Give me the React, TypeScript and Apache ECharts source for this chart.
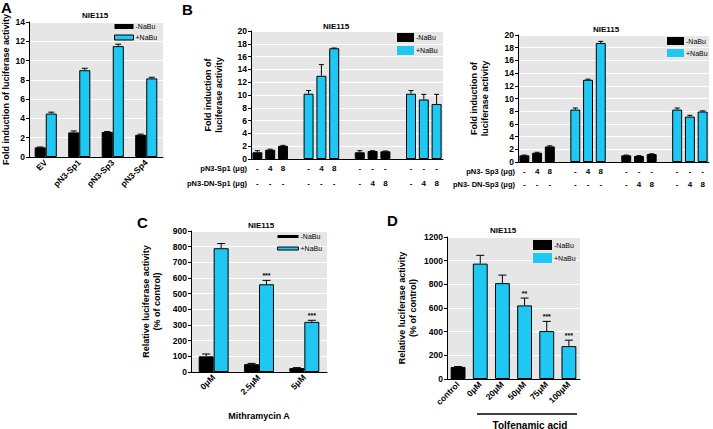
import React, { useEffect, useRef } from 'react';
import * as echarts from 'echarts';

const BLUE = '#1ec8f2';
const GRAYBG = '#e6e6e6';
const FONT = '"Liberation Sans", Arial, sans-serif';

// ---------- Panel A ----------
const aCategories = ['EV', 'pN3-Sp1', 'pN3-Sp3', 'pN3-Sp4'];
const aMinus = [1.0, 2.55, 2.6, 2.3];
const aMinusErr = [0.04, 0.15, 0.04, 0.07];
const aPlus = [4.5, 9.0, 11.5, 8.15];
const aPlusErr = [0.15, 0.2, 0.2, 0.12];

// ---------- Panel B (left: Sp1, right: Sp3) ----------
// 4 groups of 3 bars; treatment per group
const bGroupTreatment = ['-NaBu', '+NaBu', '-NaBu', '+NaBu'];
const bLeftValues = [1.05, 1.45, 2.05, 10.2, 13.0, 17.3, 1.05, 1.25, 1.2, 10.2, 9.3, 8.6];
const bLeftErrors = [0.25, 0.08, 0.08, 0.5, 1.75, 0.04, 0.25, 0.04, 0.05, 0.5, 0.8, 1.5];
const bRightValues = [1.05, 1.45, 2.45, 8.25, 12.95, 18.75, 1.05, 0.95, 1.25, 8.25, 7.15, 7.95];
const bRightErrors = [0.04, 0.08, 0.1, 0.25, 0.1, 0.25, 0.04, 0.05, 0.04, 0.25, 0.2, 0.1];
const bSpDoses = ['-', '4', '8', '-', '4', '8', '-', '-', '-', '-', '-', '-'];
const bDnDoses = ['-', '-', '-', '-', '-', '-', '-', '4', '8', '-', '4', '8'];

// ---------- Panel C ----------
const cCategories = ['0μM', '2.5μM', '5μM'];
const cMinus = [100, 50, 25];
const cMinusErr = [15, 5, 3];
const cPlus = [790, 560, 320];
const cPlusErr = [30, 25, 10];
const cPlusStars = ['', '***', '***'];

// ---------- Panel D ----------
const dCategories = ['control', '0μM', '20μM', '50μM', '75μM', '100μM'];
const dMinus = [102, null, null, null, null, null];
const dMinusErr = [3, 0, 0, 0, 0, 0];
const dPlus = [null, 975, 810, 622, 405, 278];
const dPlusErr = [0, 70, 68, 62, 82, 50];
const dPlusStars = ['', '', '', '**', '***', '***'];

// Build slot layout for B panels (3 bars + spacer per group)
function buildSlots(values: number[], errors: number[], doses1: string[], doses2: string[]) {
  const minus: (number | null)[] = [];
  const plus: (number | null)[] = [];
  const errM: [number, number, number][] = [];
  const errP: [number, number, number][] = [];
  const lab1: string[] = [];
  const lab2: string[] = [];
  const cats: string[] = [];
  for (let g = 0; g < 4; g++) {
    for (let j = 0; j < 3; j++) {
      const idx = g * 3 + j;
      const slot = cats.length;
      cats.push('s' + slot);
      lab1.push(doses1[idx]);
      lab2.push(doses2[idx]);
      if (bGroupTreatment[g] === '-NaBu') {
        minus.push(values[idx]);
        plus.push(null);
        errM.push([slot, values[idx], errors[idx]]);
      } else {
        plus.push(values[idx]);
        minus.push(null);
        errP.push([slot, values[idx], errors[idx]]);
      }
    }
    if (g < 3) {
      const slot = cats.length;
      cats.push('s' + slot);
      lab1.push('');
      lab2.push('');
      minus.push(null);
      plus.push(null);
    }
  }
  return { minus, plus, errM, errP, lab1, lab2, cats };
}

function errSeries(xIdx: number, yIdx: number, data: any[], offsetRatio: number, capPx: number, stars?: string[]) {
  return {
    type: 'custom',
    xAxisIndex: xIdx,
    yAxisIndex: yIdx,
    z: 10,
    silent: true,
    data,
    renderItem: (params: any, api: any) => {
      const i = api.value(0);
      const v = api.value(1);
      const e = api.value(2);
      const band = api.size([1, 0])[0];
      const base = api.coord([i, v]);
      const top = api.coord([i, v + e]);
      const x = base[0] + offsetRatio * band;
      const children: any[] = [];
      if (e > 0) {
        children.push({ type: 'line', shape: { x1: x, y1: base[1], x2: x, y2: top[1] }, style: { stroke: '#000', lineWidth: 1 } });
        children.push({ type: 'line', shape: { x1: x - capPx / 2, y1: top[1], x2: x + capPx / 2, y2: top[1] }, style: { stroke: '#000', lineWidth: 1 } });
      }
      const s = stars ? stars[params.dataIndex] : '';
      if (s) {
        children.push({
          type: 'text',
          x: x,
          y: top[1] - 1,
          style: { text: s, align: 'center', verticalAlign: 'bottom', textAlign: 'center', textVerticalAlign: 'bottom', fontSize: 7, fontWeight: 'bold', fill: '#000', fontFamily: FONT },
        });
      }
      return { type: 'group', children };
    },
  };
}

const axisLabelStyle = { fontFamily: FONT, fontWeight: 'bold' as const, fontSize: 8.5, color: '#000' };

function yAxis(gridIndex: number, max: number, interval: number, name: string, nameGap: number, nameSize = 9) {
  return {
    type: 'value',
    gridIndex,
    min: 0,
    max,
    interval,
    name,
    nameLocation: 'middle',
    nameGap,
    nameTextStyle: { fontFamily: FONT, fontWeight: 'bold', fontSize: nameSize, color: '#000', lineHeight: 11, align: 'center' },
    axisLine: { show: true, lineStyle: { color: '#000', width: 1 } },
    axisTick: { show: true, length: 3, lineStyle: { color: '#000' } },
    axisLabel: { ...axisLabelStyle, margin: 4, formatter: (v: number) => String(v) },
    splitLine: { show: true, lineStyle: { color: '#ffffff', width: 1 } },
  };
}

function grid(left: number, top: number, width: number, height: number) {
  return { left, top, width, height, show: true, backgroundColor: GRAYBG, borderWidth: 0, containLabel: false, outerBoundsMode: 'none' };
}

function legend(left: number, top: number, w: number, h: number, gap: number, blueBorder: boolean) {
  return {
    left,
    top,
    orient: 'vertical',
    itemWidth: w,
    itemHeight: h,
    itemGap: gap,
    icon: 'rect',
    padding: 0,
    textStyle: { fontFamily: FONT, fontSize: 7, color: '#000', padding: [0, 0, 0, -3] },
    data: [
      { name: '-NaBu', itemStyle: { color: '#000', borderWidth: 0 }, textStyle: { color: '#000' } },
      { name: '+NaBu', itemStyle: blueBorder ? { color: BLUE, borderColor: '#000', borderWidth: 1 } : { color: BLUE, borderWidth: 0 }, textStyle: { color: '#000' } },
    ],
  };
}

const barStyleM = { color: '#000', borderColor: '#000', borderWidth: 1 };
const barStyleP = { color: BLUE, borderColor: '#000', borderWidth: 1 };

export default function App() {
  const ref = useRef<HTMLDivElement>(null);
  useEffect(() => {
    if (!ref.current) return;
    const chart = echarts.init(ref.current, undefined, { renderer: 'svg' });

    const bl = buildSlots(bLeftValues, bLeftErrors, bSpDoses, bDnDoses);
    const br = buildSlots(bRightValues, bRightErrors, bSpDoses, bDnDoses);

    const rowAxis = (gridIndex: number, cats: string[], labels: string[], offset: number, showLine: boolean) => ({
      type: 'category',
      gridIndex,
      data: cats,
      position: 'bottom',
      offset,
      axisLine: { show: showLine, lineStyle: { color: '#000', width: 1 } },
      axisTick: { show: false },
      axisLabel: { ...axisLabelStyle, fontSize: 8, interval: 0, margin: 5, formatter: (_v: string, i: number) => labels[i] },
    });

    const catAxis = (gridIndex: number, cats: string[], rotate: number, extra: any = {}) => ({
      type: 'category',
      gridIndex,
      data: cats,
      axisLine: { show: true, lineStyle: { color: '#000', width: 1 } },
      axisTick: { show: false },
      axisLabel: { ...axisLabelStyle, interval: 0, rotate, margin: 4 },
      ...extra,
    });

    const titleStyle = { fontFamily: FONT, fontWeight: 'bold', fontSize: 8, color: '#000' };
    const title = (x: number, y: number) => ({ text: 'NIE115', left: x, top: y, textAlign: 'center', padding: 0, textStyle: titleStyle });

    const letter = (t: string, x: number, y: number) => ({
      type: 'text', x, y, style: { text: t, fontFamily: FONT, fontWeight: 'bold', fontSize: 15, fill: '#000' },
    });
    const rowLabel = (t: string, x: number, y: number) => ({
      type: 'text', x, y, style: { text: t, fontFamily: FONT, fontWeight: 'bold', fontSize: 7.5, fill: '#000', align: 'right', verticalAlign: 'middle', textAlign: 'right', textVerticalAlign: 'middle' },
    });

    const option: any = {
      animation: false,
      backgroundColor: '#fff',
      title: [title(95, 11), title(336, 22), title(606, 25), title(261, 221), title(503, 226)],
      grid: [
        grid(29, 22, 134, 135),
        grid(251, 31, 192, 128),
        grid(518, 35, 191, 127),
        grid(191, 231, 136, 141),
        grid(447, 237, 133, 142),
      ],
      legend: [
        legend(114, 23, 19, 5, 4, true),
        legend(397, 33, 17, 9, 4, false),
        legend(667, 37, 17, 8, 4, false),
        legend(277, 233, 21, 3, 5, true),
        legend(533, 240, 19, 10, 3, false),
      ],
      xAxis: [
        catAxis(0, aCategories, 45),
        rowAxis(1, bl.cats, bl.lab1, 0, true),
        rowAxis(1, bl.cats, bl.lab2, 15, false),
        rowAxis(2, br.cats, br.lab1, 0, true),
        rowAxis(2, br.cats, br.lab2, 13, false),
        catAxis(3, cCategories, 45, {
          name: 'Mithramycin A', nameLocation: 'middle', nameGap: 39,
          nameTextStyle: { fontFamily: FONT, fontWeight: 'bold', fontSize: 9, color: '#000' },
        }),
        catAxis(4, dCategories, 45),
      ],
      yAxis: [
        yAxis(0, 14, 2, 'Fold induction of luciferase activity', 17, 9),
        yAxis(1, 20, 2, 'Fold induction of\nluciferase activity', 27),
        yAxis(2, 20, 2, 'Fold induction of\nluciferase activity', 28),
        yAxis(3, 900, 100, 'Relative luciferase activity\n(% of control)', 29),
        yAxis(4, 1200, 200, 'Relative luciferase activity\n(% of control)', 29),
      ],
      series: [
        // A
        { type: 'bar', name: '-NaBu', xAxisIndex: 0, yAxisIndex: 0, data: aMinus, barWidth: '33%', barGap: '0%', itemStyle: barStyleM },
        { type: 'bar', name: '+NaBu', xAxisIndex: 0, yAxisIndex: 0, data: aPlus, barWidth: '33%', barGap: '0%', itemStyle: barStyleP },
        errSeries(0, 0, aMinus.map((v, i) => [i, v, aMinusErr[i]]), -0.165, 6),
        errSeries(0, 0, aPlus.map((v, i) => [i, v, aPlusErr[i]]), 0.165, 6),
        // B left
        { type: 'bar', name: '-NaBu', xAxisIndex: 1, yAxisIndex: 1, data: bl.minus, barWidth: '78%', barGap: '-100%', itemStyle: barStyleM },
        { type: 'bar', name: '+NaBu', xAxisIndex: 1, yAxisIndex: 1, data: bl.plus, barWidth: '78%', barGap: '-100%', itemStyle: barStyleP },
        errSeries(1, 1, bl.errM, 0, 5),
        errSeries(1, 1, bl.errP, 0, 5),
        // B right
        { type: 'bar', name: '-NaBu', xAxisIndex: 3, yAxisIndex: 2, data: br.minus, barWidth: '78%', barGap: '-100%', itemStyle: barStyleM },
        { type: 'bar', name: '+NaBu', xAxisIndex: 3, yAxisIndex: 2, data: br.plus, barWidth: '78%', barGap: '-100%', itemStyle: barStyleP },
        errSeries(3, 2, br.errM, 0, 5),
        errSeries(3, 2, br.errP, 0, 5),
        // C
        { type: 'bar', name: '-NaBu', xAxisIndex: 5, yAxisIndex: 3, data: cMinus, barWidth: '33%', barGap: '0%', itemStyle: barStyleM },
        { type: 'bar', name: '+NaBu', xAxisIndex: 5, yAxisIndex: 3, data: cPlus, barWidth: '33%', barGap: '0%', itemStyle: barStyleP },
        errSeries(5, 3, cMinus.map((v, i) => [i, v, cMinusErr[i]]), -0.165, 8),
        errSeries(5, 3, cPlus.map((v, i) => [i, v, cPlusErr[i]]), 0.165, 8, cPlusStars),
        // D
        { type: 'bar', name: '-NaBu', xAxisIndex: 6, yAxisIndex: 4, data: dMinus, barWidth: '67%', barGap: '-100%', itemStyle: barStyleM },
        { type: 'bar', name: '+NaBu', xAxisIndex: 6, yAxisIndex: 4, data: dPlus, barWidth: '67%', barGap: '-100%', itemStyle: barStyleP },
        errSeries(6, 4, dMinus.map((v, i) => [i, v, dMinusErr[i]]).filter((d) => d[1] !== null), 0, 8),
        errSeries(6, 4, dPlus.map((v, i) => [i, v, dPlusErr[i]]).filter((d) => d[1] !== null), 0, 8, dPlusStars.filter((_s, i) => dPlus[i] !== null)),
      ],
      graphic: [
        letter('A', 1, 0),
        letter('B', 182, 2),
        letter('C', 137, 215),
        letter('D', 387, 213),
        rowLabel('pN3-Sp1 (μg)', 247, 168),
        rowLabel('pN3-DN-Sp1 (μg)', 247, 183),
        rowLabel('pN3- Sp3 (μg)', 515, 171),
        rowLabel('pN3- DN-Sp3 (μg)', 515, 184),
        { type: 'line', shape: { x1: 477, y1: 414, x2: 577, y2: 414 }, style: { stroke: '#000', lineWidth: 1.5 } },
        {
          type: 'text', x: 530, y: 420,
          style: { text: 'Tolfenamic acid', fontFamily: FONT, fontWeight: 'bold', fontSize: 10, fill: '#000', align: 'center', textAlign: 'center' },
        },
      ],
    };
    chart.setOption(option);
    return () => chart.dispose();
  }, []);
  return <div ref={ref} style={{ position: 'absolute', left: 0, top: 0, width: 713, height: 429 }} />;
}
